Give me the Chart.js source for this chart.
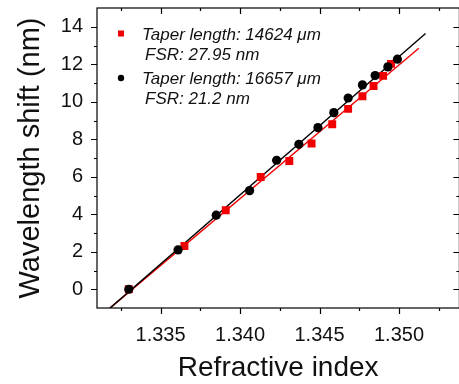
<!DOCTYPE html>
<html>
<head>
<meta charset="utf-8">
<script src="https://cdn.jsdelivr.net/npm/chart.js@4"></script>
<style>
  html, body { margin: 0; padding: 0; background: #fff; overflow: hidden; }
  #wrap { width: 459px; height: 384px; overflow: hidden; }
</style>
</head>
<body>
<div id="wrap"><canvas id="grafico" width="465" height="384"></canvas></div>
<script>
// dados
var indice_preto = [1.3330, 1.3361, 1.3385, 1.3406, 1.3423, 1.3437, 1.3449, 1.3459, 1.3468, 1.3477, 1.3485, 1.3493, 1.3499];
var shift_preto  = [0.00, 2.10, 3.95, 5.26, 6.88, 7.73, 8.62, 9.42, 10.20, 10.90, 11.40, 11.86, 12.27];
var indice_vermelho = [1.3330, 1.3365, 1.3391, 1.3413, 1.3431, 1.3445, 1.3458, 1.3468, 1.3477, 1.3484, 1.3490, 1.3495];
var shift_vermelho  = [0.00, 2.31, 4.21, 5.99, 6.84, 7.77, 8.80, 9.62, 10.29, 10.84, 11.38, 12.02];

// retas de ajuste (extremos)
var ajuste_preto_x = [1.3318, 1.35167];
var ajuste_preto_y = [-1.02, 13.64];
var ajuste_vermelho_x = [1.3318, 1.35125];
var ajuste_vermelho_y = [-1.02, 12.85];

var legenda_vermelho = ["Taper length: 14624 \u03bcm", "FSR: 27.95 nm"];
var legenda_preto = ["Taper length: 16657 \u03bcm", "FSR: 21.2 nm"];

var ticks_x = [1.335, 1.340, 1.345, 1.350];
var rotulos_x = ["1.335", "1.340", "1.345", "1.350"];
var ticks_x_menores = [1.3325, 1.3375, 1.3425, 1.3475, 1.3525];
var ticks_y = [0, 2, 4, 6, 8, 10, 12, 14];
var ticks_y_menores = [-1, 1, 3, 5, 7, 9, 11, 13, 15];

var vermelho = "rgb(240, 0, 0)";
var preto = "rgb(0, 0, 0)";
var fonte = '"Liberation Sans", Arial, sans-serif';

function pontos(xs, ys) {
    return xs.map(function (x, i) { return {x: x, y: ys[i]}; });
}

function sem_padding(scale) {
    scale.paddingTop = 0;
    scale.paddingBottom = 0;
    scale.paddingLeft = 0;
    scale.paddingRight = 0;
}

// moldura com marcas (fora em baixo/esquerda, dentro em cima/direita)
const moldura = {
    id: 'moldura',
    afterDraw(chart) {
        const ctx = chart.ctx;
        const a = chart.chartArea;
        const sx = chart.scales.x, sy = chart.scales.y;
        ctx.save();
        ctx.strokeStyle = "#000";
        ctx.lineWidth = 1.2;
        ctx.strokeRect(a.left, a.top, a.right - a.left, a.bottom - a.top);
        ctx.beginPath();
        function marcaX(v, len) {
            const px = Math.round(sx.getPixelForValue(v)) + 0.5;
            ctx.moveTo(px, a.bottom); ctx.lineTo(px, a.bottom + len);
            ctx.moveTo(px, a.top); ctx.lineTo(px, a.top + len);
        }
        function marcaY(v, len) {
            const py = Math.round(sy.getPixelForValue(v)) + 0.5;
            ctx.moveTo(a.left, py); ctx.lineTo(a.left - len, py);
            ctx.moveTo(a.right, py); ctx.lineTo(a.right - len, py);
        }
        ticks_x.forEach(function (v) { marcaX(v, 6); });
        ticks_x_menores.forEach(function (v) { if (v > sx.min && v < sx.max) marcaX(v, 3); });
        ticks_y.forEach(function (v) { marcaY(v, 6); });
        ticks_y_menores.forEach(function (v) { if (v > sy.min && v < sy.max) marcaY(v, 3); });
        ctx.stroke();
        ctx.restore();
    }
};

// legenda desenhada dentro do grafico
const legenda = {
    id: 'legenda',
    afterDatasetsDraw(chart) {
        const ctx = chart.ctx;
        ctx.save();
        ctx.font = 'italic 17px ' + fonte;
        ctx.textBaseline = 'alphabetic';
        ctx.fillStyle = vermelho;
        ctx.fillRect(118, 30.5, 6, 6);
        ctx.fillStyle = preto;
        ctx.beginPath();
        ctx.arc(121, 78, 3.2, 0, Math.PI * 2);
        ctx.fill();
        ctx.fillStyle = "#111";
        ctx.fillText(legenda_vermelho[0], 142, 39.5);
        ctx.fillText(legenda_vermelho[1], 145, 60);
        ctx.fillText(legenda_preto[0], 142, 83.5);
        ctx.fillText(legenda_preto[1], 145, 104);
        ctx.restore();
    }
};

function renderiza_grafico() {
    const ctx = document.getElementById('grafico').getContext('2d');
    new Chart(ctx, {
        type: 'scatter',
        data: {
            datasets: [{
                label: 'preto',
                data: pontos(indice_preto, shift_preto),
                backgroundColor: preto,
                borderColor: preto,
                pointStyle: 'circle',
                pointRadius: 4.6,
                borderWidth: 0,
                order: 0
            }, {
                label: 'vermelho',
                data: pontos(indice_vermelho, shift_vermelho),
                backgroundColor: vermelho,
                borderColor: vermelho,
                pointStyle: 'rect',
                pointRadius: 5.6,
                borderWidth: 0,
                order: 1
            }, {
                label: 'ajuste preto',
                data: pontos(ajuste_preto_x, ajuste_preto_y),
                showLine: true,
                borderColor: preto,
                borderWidth: 1.4,
                pointRadius: 0,
                order: 2
            }, {
                label: 'ajuste vermelho',
                data: pontos(ajuste_vermelho_x, ajuste_vermelho_y),
                showLine: true,
                borderColor: vermelho,
                borderWidth: 1.4,
                pointRadius: 0,
                order: 3
            }]
        },
        options: {
            responsive: false,
            animation: false,
            layout: { padding: { top: 8, right: 4, left: 0, bottom: 0 } },
            plugins: {
                legend: { display: false },
                tooltip: { enabled: false }
            },
            scales: {
                x: {
                    type: 'linear',
                    min: 1.331,
                    max: 1.3538,
                    afterBuildTicks: function (scale) {
                        scale.ticks = ticks_x.map(function (v) { return {value: v}; });
                    },
                    afterFit: function (scale) { scale.height = 76; sem_padding(scale); },
                    grid: { display: false, drawTicks: false },
                    border: { display: false },
                    ticks: {
                        color: "#111",
                        padding: 15,
                        maxRotation: 0,
                        font: { family: fonte, size: 20 },
                        callback: function (v) {
                            const i = ticks_x.findIndex(function (t) { return Math.abs(t - v) < 1e-6; });
                            return i >= 0 ? rotulos_x[i] : '';
                        }
                    },
                    title: {
                        display: true,
                        text: 'Refractive index',
                        color: "#111",
                        font: { family: fonte, size: 28 },
                        padding: { top: 0, bottom: -1 }
                    }
                },
                y: {
                    type: 'linear',
                    min: -1,
                    max: 15,
                    afterBuildTicks: function (scale) {
                        scale.ticks = ticks_y.map(function (v) { return {value: v}; });
                    },
                    afterFit: function (scale) { scale.width = 97; sem_padding(scale); },
                    grid: { display: false, drawTicks: false },
                    border: { display: false },
                    ticks: {
                        color: "#111",
                        padding: 14,
                        font: { family: fonte, size: 20 }
                    },
                    title: {
                        display: true,
                        text: 'Wavelength shift (nm)',
                        color: "#111",
                        font: { family: fonte, size: 29 },
                        padding: { top: 14, bottom: 0 }
                    }
                }
            }
        },
        plugins: [moldura, legenda]
    });
}

window.onload = function () {
    renderiza_grafico();
};
</script>
</body>
</html>
